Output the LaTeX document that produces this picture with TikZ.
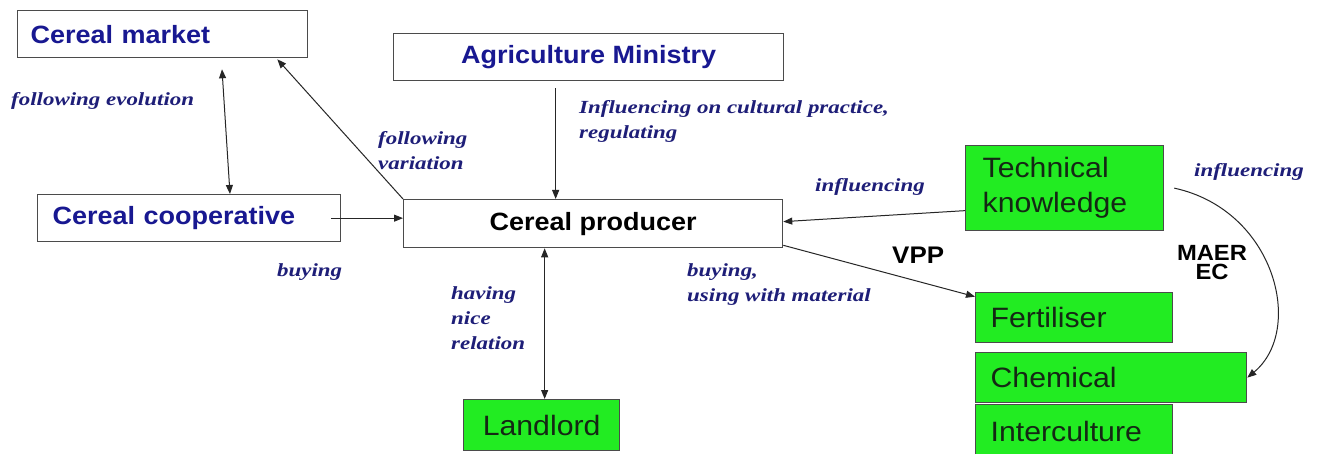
\documentclass[tikz,border=0pt]{standalone}
\usepackage{fontspec}
\setmainfont{Liberation Serif}
\newfontfamily\ttlfont{Liberation Sans}[FakeStretch=1.08]
\newfontfamily\lblfontfam{Liberation Serif}[FakeStretch=1.24]
\usetikzlibrary{arrows.meta,calc}
\definecolor{ttlblue}{RGB}{24,24,145}
\definecolor{lblblue}{RGB}{30,30,120}
\definecolor{bgreen}{RGB}{34,236,34}
\definecolor{gtext}{RGB}{20,40,20}
\definecolor{bord}{RGB}{75,75,75}
\begin{document}
\begin{tikzpicture}[x=1pt,y=-1pt,
 box/.style={draw=bord,line width=1.3pt,fill=white,inner sep=0pt,anchor=north west,font=\ttlfont\bfseries\fontsize{25}{28}\selectfont,text=ttlblue},
 gbox/.style={box,fill=bgreen,font=\ttlfont\fontsize{28}{35}\selectfont,text=gtext},
 lbl/.style={font=\lblfontfam\bfseries\itshape\fontsize{18.5}{25}\selectfont,text=lblblue,align=left,anchor=west,inner sep=0pt},
 arr/.style={draw=black!85,line width=1pt,-{Triangle[length=9pt,width=7pt]}},
 darr/.style={arr,{Triangle[length=9pt,width=7pt]}-{Triangle[length=9pt,width=7pt]}}]
\useasboundingbox[fill=white] (0,0) rectangle (1319,454);
% boxes
\node[box,minimum width=290pt,minimum height=47pt,text width=264pt,align=left] (market) at (17,10) {Cereal market};
\node[box,minimum width=303pt,minimum height=47pt,text width=273pt,align=left] (coop) at (37,194) {Cereal cooperative};
\node[box,minimum width=390pt,minimum height=47pt,align=center] (min) at (393,33) {Agriculture Ministry};
\node[box,minimum width=379pt,minimum height=48pt,text=black] (prod) at (403,199) {Cereal producer};
\node[gbox,minimum width=198pt,minimum height=85pt,text width=164pt,align=left] (tk) at (965,145) {Technical\\knowledge};
\node[gbox,minimum width=197pt,minimum height=50pt,text width=167pt,align=left] (fert) at (975,292) {Fertiliser};
\node[gbox,minimum width=271pt,minimum height=50pt,text width=241pt,align=left] (chem) at (975,352) {Chemical};
\node[gbox,minimum width=197pt,minimum height=54pt,text width=167pt,align=left] (inter) at (975,404) {Interculture};
\node[gbox,minimum width=156pt,minimum height=51pt] (ll) at (463,399) {Landlord};
% connectors
\coordinate (mc1) at ([shift={(205,11)}]market.south west);
\coordinate (mc2) at ([shift={(193,0)}]coop.north west);
\draw[darr] (mc1) -- (mc2);
\draw[arr] ([shift={(-10,0)}]coop.east) -- (prod.west |- coop.east);
\draw[arr] (prod.north west) -- ([shift={(-31,1)}]market.south east);
\coordinate (m1) at ([shift={(-33,7)}]min.south);
\draw[arr] (m1) -- (m1 |- prod.north);
\draw[arr] ([shift={(0,22.5)}]tk.west) -- ([shift={(0,-2)}]prod.east);
\draw[arr] ([shift={(0,-3)}]prod.south east) -- ([shift={(0,-21)}]fert.west);
\coordinate (l1) at ([shift={(3,0)}]ll.north);
\draw[darr] (l1) -- (l1 |- prod.south);
\draw[arr] ([shift={(10,0)}]tk.east) .. controls (1275,210) and (1305,330) .. (chem.east);
% labels
\node[lbl] (lfe) at (11,101) {following evolution};
\node[lbl] (lfv) at (378,151) {following\\variation};
\node[lbl] (lic) at (579,121) {Influencing on cultural practice,\\regulating};
\node[lbl] (lin1) at (815,187) {influencing};
\node[lbl] (lin2) at (1194,172) {influencing};
\node[lbl] (lbuy) at (277,272) {buying};
\node[lbl] (lnice) at (451,318) {having\\nice\\relation};
\node[lbl] (lbuy2) at (687,285) {buying,\\using with material};
\node[font=\ttlfont\bfseries\fontsize{24}{24}\selectfont,anchor=west,inner sep=0pt] (vpp) at (892,255) {VPP};
\node[font=\ttlfont\bfseries\fontsize{22}{19}\selectfont,align=center,inner sep=0pt] (maer) at (1212,263) {MAER\\EC};
\end{tikzpicture}
\end{document}
